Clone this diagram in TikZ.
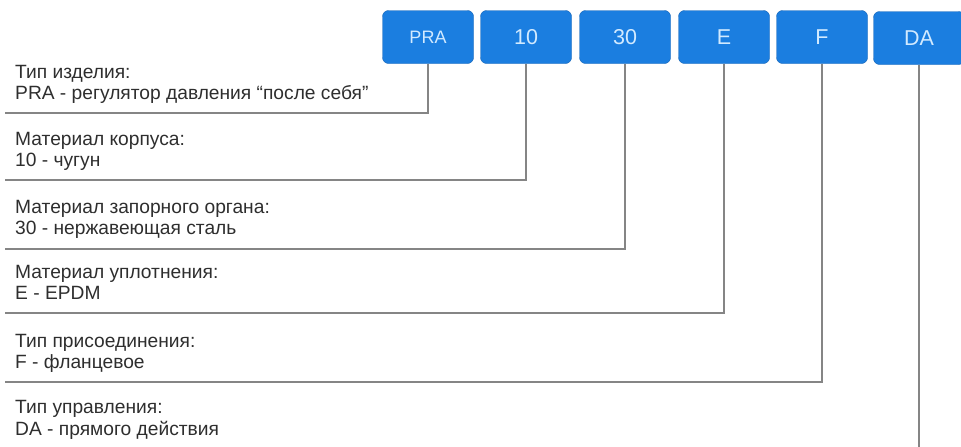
\documentclass[tikz,border=0pt]{standalone}
\usepackage{fontspec}
\setmainfont{Liberation Sans}
\usetikzlibrary{positioning}
\definecolor{codeblue}{HTML}{1B7EE0}
\definecolor{codeedge}{HTML}{1462B4}
\definecolor{codetext}{HTML}{D2EAFF}
\definecolor{legtext}{HTML}{2E2E2E}
\definecolor{legline}{HTML}{858585}
\tikzset{
  code/.style={draw=codeedge,fill=codeblue,rounded corners=6pt,text=codetext,
    minimum width=91pt,minimum height=53pt,inner sep=0pt,font=\fontsize{21.5}{21.5}\selectfont},
  legend/.style={anchor=base west,text=legtext,inner sep=0pt,
    font=\fontsize{19.2}{21}\selectfont},
  lead/.style={draw=legline,line width=1.1pt}
}

\begin{document}
\begin{tikzpicture}[x=1pt,y=-1pt]
  \useasboundingbox (0,0) rectangle (961,447);
  % code boxes
  \node[code,font=\fontsize{18}{18}\selectfont] (pra) at (428,37) {PRA};
  \node[code] (n10) at (526,37) {10};
  \node[code] (n30) at (625,37) {30};
  \node[code] (e) at (724,37) {E};
  \node[code] (f) at (822,37) {F};
  \node[code] (da) at (919,38) {DA};

  % corner points of the leader lines
  \coordinate (praend) at (5,113);
  \coordinate (n10end) at (5,180);
  \coordinate (n30end) at (5,249);
  \coordinate (eend) at (5,313);
  \coordinate (fend) at (5,382);
  \coordinate (daend) at (919,447);

  % legends
  \node[legend] (tpra) at (15,78) {Тип изделия:};
  \node[legend] (vpra) at (15,99) {PRA - регулятор давления “после себя”};
  \node[legend] (t10) at (15,145) {Материал корпуса:};
  \node[legend] (v10) at (15,166) {10 - чугун};
  \node[legend] (t30) at (15,213) {Материал запорного органа:};
  \node[legend] (v30) at (15,234) {30 - нержавеющая сталь};
  \node[legend] (te) at (15,278) {Материал уплотнения:};
  \node[legend] (ve) at (15,299) {E - EPDM};
  \node[legend] (tf) at (15,347) {Тип присоединения:};
  \node[legend] (vf) at (15,368) {F - фланцевое};
  \node[legend] (tda) at (15,413) {Тип управления:};
  \node[legend] (vda) at (15,435) {DA - прямого действия};

  % leader lines
  \draw[lead] (pra.south) |- (praend);
  \draw[lead] (n10.south) |- (n10end);
  \draw[lead] (n30.south) |- (n30end);
  \draw[lead] (e.south) |- (eend);
  \draw[lead] (f.south) |- (fend);
  \draw[lead] (da.south) -- (daend);
\end{tikzpicture}
\end{document}
